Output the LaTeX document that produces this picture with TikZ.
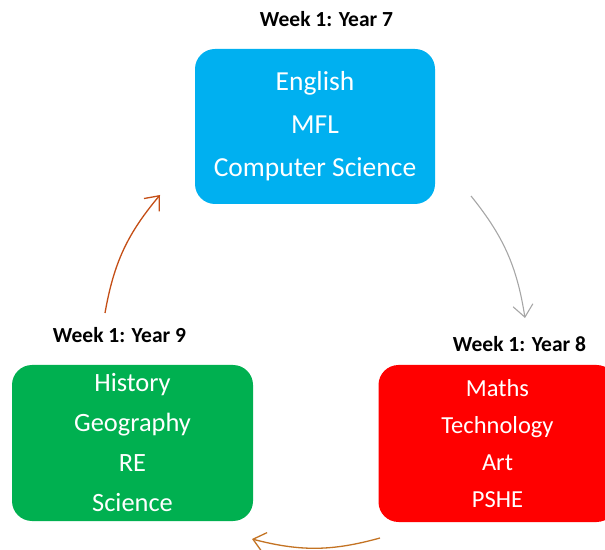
\documentclass[tikz,border=0pt]{standalone}
\usepackage{fontspec}
\setmainfont{Carlito}
\usetikzlibrary{arrows.meta}

\definecolor{yrblue}{HTML}{00B0F0}
\definecolor{yrred}{HTML}{FF0000}
\definecolor{yrgreen}{HTML}{00B050}
\definecolor{cyclegray}{HTML}{A6A6A6}
\definecolor{cyclerust}{RGB}{196,78,22}
\definecolor{cycleochre}{RGB}{195,115,35}

\begin{document}
\begin{tikzpicture}[x=1pt,y=1pt,
	subjects/.style={rounded corners=20pt, text=white, align=center, inner sep=0pt,
		minimum width=240pt, minimum height=155pt},
	weeklabel/.style={anchor=base, font=\fontsize{21.5}{24}\selectfont\bfseries},
	cycle/.style={line width=1.3pt, bend left=15, -{Straight Barb[length=12pt,width=20pt]}}]
	\useasboundingbox (0,0) rectangle (605,549);
	\clip (0,0) rectangle (605,549);
	% year 7
	\node[subjects, fill=yrblue, font=\fontsize{27.5}{43}\selectfont] (year7) at (315,422.5)
		{English\\MFL\\Computer Science};
	\node[weeklabel] (lab7) at (326.5,522) {Week 1: Year 7};
	% year 8 (runs off the right edge)
	\node[subjects, fill=yrred, minimum width=238pt, minimum height=157pt,
		font=\fontsize{24.5}{37}\selectfont] (year8) at (497.5,105.5)
		{Maths\\Technology\\Art\\PSHE};
	\node[weeklabel] (lab8) at (519.5,197) {Week 1: Year 8};
	% year 9
	\node[subjects, fill=yrgreen, minimum width=241pt, minimum height=156pt,
		font=\fontsize{26.4}{40}\selectfont] (year9) at (132.5,106)
		{History\\Geography\\RE\\Science};
	\node[weeklabel] (lab9) at (119.5,206) {Week 1: Year 9};
	% arrows round the cycle
	\coordinate (from7) at (471,353);
	\coordinate (to8) at (525,231);
	\coordinate (from8) at (380,11);
	\coordinate (to9) at (252,10);
	\coordinate (from9) at (105,236);
	\coordinate (to7) at (160,354);
	\draw[cycle, cyclegray, line width=1.1pt] (from7) to (to8);
	\draw[cycle, cycleochre] (from8) to (to9);
	\draw[cycle, cyclerust] (from9) to (to7);
\end{tikzpicture}
\end{document}
